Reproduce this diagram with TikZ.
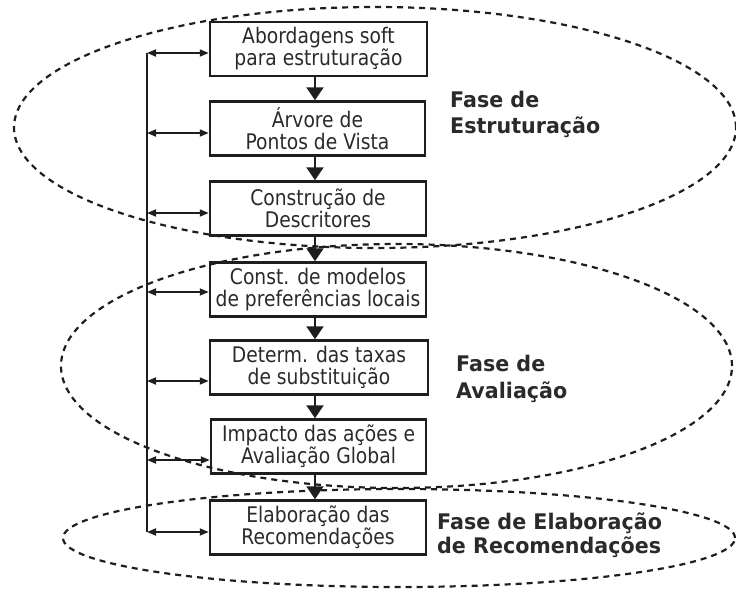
\documentclass[tikz,border=0pt]{standalone}
\usepackage{fontspec}
\usetikzlibrary{arrows.meta,shapes.geometric}
\newfontfamily\boxfont[FakeStretch=0.87]{DejaVu Sans}
\newfontfamily\labfont[FakeStretch=0.96]{DejaVu Sans}
\definecolor{ink}{HTML}{1E1E1E}
\definecolor{txt}{HTML}{2A2A2A}
\begin{document}
\begin{tikzpicture}[x=1pt,y=-1pt,
  phase/.style={ellipse,draw=ink,line width=2.2pt,dash pattern=on 6pt off 5pt,inner sep=0pt,outer sep=0pt},
  stepbox/.style={draw=ink,line width=2.5pt,minimum height=54pt,inner sep=0pt,
    align=center,text=txt,font=\boxfont\fontsize{21.5}{22}\selectfont},
  downarr/.style={draw=ink,line width=2.2pt,-{Triangle[width=17pt,length=13pt]}},
  dblarr/.style={draw=ink,line width=1.8pt,{Triangle[width=7pt,length=9pt]}-{Triangle[width=7pt,length=9pt]}},
  lab/.style={anchor=base west,inner sep=0pt,text=txt,font=\labfont\bfseries\fontsize{21.5}{26}\selectfont}]
\useasboundingbox (0,0) rectangle (736,589);

% phase ellipses
\node[phase,minimum width=722pt,minimum height=241pt] (e1) at (375,127.5) {};
\node[phase,minimum width=671pt,minimum height=244pt] (e2) at (396.5,366) {};
\node[phase,minimum width=672pt,minimum height=98pt] (e3) at (399,538) {};

% boxes
\node[stepbox,minimum width=217pt] (b1) at (318.5,49) {Abordagens soft\\para estruturação};
\node[stepbox,minimum width=215pt] (b2) at (317.5,128.5) {Árvore de\\Pontos de Vista};
\node[stepbox,minimum width=216pt] (b3) at (318,208.5) {Construção de\\Descritores};
\node[stepbox,minimum width=216pt] (b4) at (318,289.5) {Const. de modelos\\de preferências locais};
\node[stepbox,minimum width=218pt] (b5) at (319,367.5) {Determ. das taxas\\de substituição};
\node[stepbox,minimum width=215pt] (b6) at (318.5,446.5) {Impacto das ações e\\Avaliação Global};
\node[stepbox,minimum width=216pt] (b7) at (318,527.5) {Elaboração das\\Recomendações};

% down arrows
\coordinate (ax) at (315,0);
\draw[downarr] (b1.south -| ax) -- (b2.north -| ax);
\draw[downarr] (b2.south -| ax) -- (b3.north -| ax);
\draw[downarr] (b3.south -| ax) -- (b4.north -| ax);
\draw[downarr] (b4.south -| ax) -- (b5.north -| ax);
\draw[downarr] (b5.south -| ax) -- (b6.north -| ax);
\draw[downarr] (b6.south -| ax) -- (b7.north -| ax);

% feedback line
\coordinate (l1) at (147,53);
\coordinate (l2) at (147,133);
\coordinate (l3) at (147,213);
\coordinate (l4) at (147,292);
\coordinate (l5) at (147,381);
\coordinate (l6) at (147,460);
\coordinate (l7) at (147,532);
\draw[ink,line width=2.5pt] (l1) -- (l7);
\draw[dblarr] (l1) -- (l1 -| b1.west);
\draw[dblarr] (l2) -- (l2 -| b2.west);
\draw[dblarr] (l3) -- (l3 -| b3.west);
\draw[dblarr] (l4) -- (l4 -| b4.west);
\draw[dblarr] (l5) -- (l5 -| b5.west);
\draw[dblarr] (l6) -- (l6 -| b6.west);
\draw[dblarr] (l7) -- (l7 -| b7.west);

% phase labels
\node[lab] (t1a) at (450,107) {Fase de};
\node[lab] (t1b) at (450,133) {Estruturação};
\node[lab] (t2a) at (456,371) {Fase de};
\node[lab] (t2b) at (456,398) {Avaliação};
\node[lab] (t3a) at (437,529) {Fase de Elaboração};
\node[lab] (t3b) at (437,553) {de Recomendações};
\end{tikzpicture}
\end{document}
